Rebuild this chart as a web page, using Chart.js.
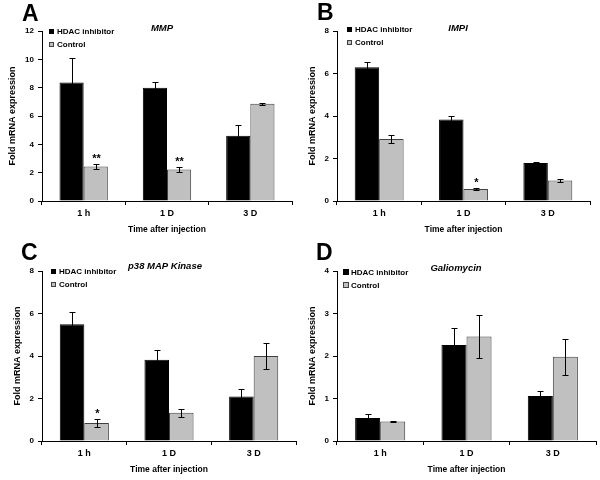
<!DOCTYPE html>
<html>
<head>
<meta charset="utf-8">
<script src="https://cdn.jsdelivr.net/npm/chart.js@4.4.1/dist/chart.umd.min.js"></script>
<style>
  html, body { margin: 0; padding: 0; background: #fff; }
  #wrap { position: relative; width: 600px; height: 480px; }
  .panel { position: absolute; width: 300px; height: 240px; }
  .letter { position: absolute; font: bold 23px 'Liberation Sans', Arial, sans-serif; line-height: 23px; color: #000; }
</style>
</head>
<body>
<div id="wrap">
  <canvas class="panel" id="chartA" width="300" height="240" style="left:0;top:0"></canvas>
  <canvas class="panel" id="chartB" width="300" height="240" style="left:300px;top:0"></canvas>
  <canvas class="panel" id="chartC" width="300" height="240" style="left:0;top:240px"></canvas>
  <canvas class="panel" id="chartD" width="300" height="240" style="left:300px;top:240px"></canvas>
  <div class="letter" style="left:22px;top:2px">A</div>
  <div class="letter" style="left:317px;top:1px">B</div>
  <div class="letter" style="left:21px;top:241px">C</div>
  <div class="letter" style="left:316px;top:241px">D</div>
</div>
<script>
// shared x categories and series names
const timePoints = ['1 h', '1 D', '3 D'];
const seriesNames = ['HDAC inhibitor', 'Control'];

// A - MMP
const mmpHdac = [8.36, 8.0, 4.6];
const mmpHdacErr = [1.75, 0.38, 0.8];
const mmpCtrl = [2.43, 2.22, 6.87];
const mmpCtrlErr = [0.15, 0.18, 0.06];
const mmpStars = ['**', '**', ''];

// B - IMPI
const impiHdac = [6.3, 3.84, 1.79];
const impiHdacErr = [0.25, 0.16, 0.03];
const impiCtrl = [2.92, 0.57, 0.96];
const impiCtrlErr = [0.2, 0.06, 0.07];
const impiStars = ['', '*', ''];

// C - p38 MAP Kinase
const p38Hdac = [5.5, 3.82, 2.09];
const p38HdacErr = [0.58, 0.48, 0.35];
const p38Ctrl = [0.85, 1.33, 4.0];
const p38CtrlErr = [0.18, 0.19, 0.6];
const p38Stars = ['*', '', ''];

// D - Galiomycin
const galHdac = [0.54, 2.26, 1.06];
const galHdacErr = [0.1, 0.39, 0.12];
const galCtrl = [0.46, 2.46, 1.98];
const galCtrlErr = [0.02, 0.5, 0.42];
const galStars = ['', '', ''];

Chart.defaults.font.family = "'Liberation Sans', Arial, sans-serif";
Chart.defaults.color = '#000';

const FILLS = ['#000000', '#c0c0c0'];
const EDGES = ['#000000', '#404040'];

// error bars, significance stars, inline legend and italic gene title
const panelDecor = {
  id: 'panelDecor',
  afterDatasetsDraw(chart, args, opts) {
    const ctx = chart.ctx;
    const y = chart.scales.y;
    ctx.save();
    ctx.strokeStyle = '#000';
    ctx.lineWidth = 1;
    chart.data.datasets.forEach((ds, i) => {
      const meta = chart.getDatasetMeta(i);
      meta.data.forEach((bar, j) => {
        const v = ds.data[j], e = ds.errors[j];
        const x = Math.round(bar.x) + 0.5;
        const top = Math.round(y.getPixelForValue(v + e)) + 0.5;
        const bot = Math.round(y.getPixelForValue(v - e)) + 0.5;
        ctx.beginPath();
        ctx.moveTo(x, top); ctx.lineTo(x, bot);
        ctx.moveTo(x - 3, top); ctx.lineTo(x + 3, top);
        ctx.moveTo(x - 3, bot); ctx.lineTo(x + 3, bot);
        ctx.stroke();
        if (ds.stars && ds.stars[j]) {
          ctx.fillStyle = '#000';
          ctx.font = "bold 11px 'Liberation Sans', Arial, sans-serif";
          ctx.textAlign = 'center';
          ctx.textBaseline = 'middle';
          ctx.fillText(ds.stars[j], x, top - 6);
        }
      });
    });
    ctx.restore();
  },
  afterDraw(chart, args, opts) {
    const ctx = chart.ctx;
    const area = chart.chartArea;
    ctx.save();
    // title
    ctx.fillStyle = '#000';
    ctx.font = "italic bold 9.5px 'Liberation Sans', Arial, sans-serif";
    ctx.textAlign = 'center';
    ctx.textBaseline = 'middle';
    ctx.fillText(opts.title, opts.titleX, opts.titleY);
    // legend
    ctx.font = "bold 8px 'Liberation Sans', Arial, sans-serif";
    ctx.textAlign = 'left';
    const b = opts.boxSize;
    chart.data.datasets.forEach((ds, i) => {
      const cy = area.top + opts.legendDy + i * 13;
      const bx = area.left + opts.legendDx;
      const by = Math.round(cy - b / 2);
      ctx.fillStyle = ds.backgroundColor;
      ctx.fillRect(bx, by, b, b);
      ctx.strokeStyle = ds.borderColor;
      ctx.lineWidth = 1;
      ctx.strokeRect(bx + 0.5, by + 0.5, b - 1, b - 1);
      ctx.fillStyle = '#000';
      ctx.fillText(ds.label, area.left + opts.legendDx + 8, cy + 0.5);
    });
    ctx.restore();
  }
};

function makePanel(id, hdac, hdacErr, ctrl, ctrlErr, stars, yMax, step, look) {
  return new Chart(document.getElementById(id), {
    type: 'bar',
    data: {
      labels: timePoints,
      datasets: [
        { label: seriesNames[0], data: hdac, errors: hdacErr,
          backgroundColor: FILLS[0], borderColor: EDGES[0], borderWidth: 1 },
        { label: seriesNames[1], data: ctrl, errors: ctrlErr, stars: stars,
          backgroundColor: FILLS[1], borderColor: EDGES[1], borderWidth: 1 }
      ]
    },
    options: {
      responsive: false,
      animation: false,
      devicePixelRatio: 1,
      categoryPercentage: 0.58,
      barPercentage: 1.0,
      layout: { padding: { top: 31, right: look.padRight, bottom: 0, left: 0 } },
      plugins: {
        legend: { display: false },
        tooltip: { enabled: false },
        panelDecor: look
      },
      scales: {
        x: {
          afterFit(s) { s.height = 39; },
          grid: { display: true, drawOnChartArea: false, drawTicks: true, tickLength: 4, color: '#000', offset: true },
          border: { display: true, color: '#000', width: 1 },
          ticks: { font: { size: 9, weight: 'bold' }, padding: 3 },
          title: { display: true, text: 'Time after injection',
                   font: { size: 8.5, weight: 'bold' }, padding: { top: 0, bottom: 5 } }
        },
        y: {
          min: 0, max: yMax,
          afterFit(s) { s.width = look.axisLeft; },
          grid: { display: true, drawOnChartArea: false, drawTicks: true, tickLength: 4, color: '#000' },
          border: { display: true, color: '#000', width: 1 },
          ticks: { stepSize: step, font: { size: 8, weight: 'bold' }, padding: 4 },
          title: { display: true, text: 'Fold mRNA expression',
                   font: { size: 9, weight: 'bold' }, padding: { top: look.yTitlePad, bottom: 0 } }
        }
      }
    },
    plugins: [panelDecor]
  });
}

makePanel('chartA', mmpHdac, mmpHdacErr, mmpCtrl, mmpCtrlErr, mmpStars, 12, 2,
  { title: 'MMP', titleX: 162, titleY: 28, legendDx: 7, legendDy: 0, boxSize: 5, axisLeft: 42, padRight: 8, yTitlePad: 7 });
makePanel('chartB', impiHdac, impiHdacErr, impiCtrl, impiCtrlErr, impiStars, 8, 2,
  { title: 'IMPI', titleX: 158, titleY: 28, legendDx: 10, legendDy: -2, boxSize: 5, axisLeft: 37, padRight: 10, yTitlePad: 7 });
makePanel('chartC', p38Hdac, p38HdacErr, p38Ctrl, p38CtrlErr, p38Stars, 8, 2,
  { title: 'p38 MAP Kinase', titleX: 165, titleY: 26, legendDx: 9, legendDy: 0, boxSize: 5, axisLeft: 42, padRight: 4, yTitlePad: 12 });
makePanel('chartD', galHdac, galHdacErr, galCtrl, galCtrlErr, galStars, 4, 1,
  { title: 'Galiomycin', titleX: 156, titleY: 28, legendDx: 6, legendDy: 1, boxSize: 6, axisLeft: 37, padRight: 4, yTitlePad: 7 });
</script>
</body>
</html>
